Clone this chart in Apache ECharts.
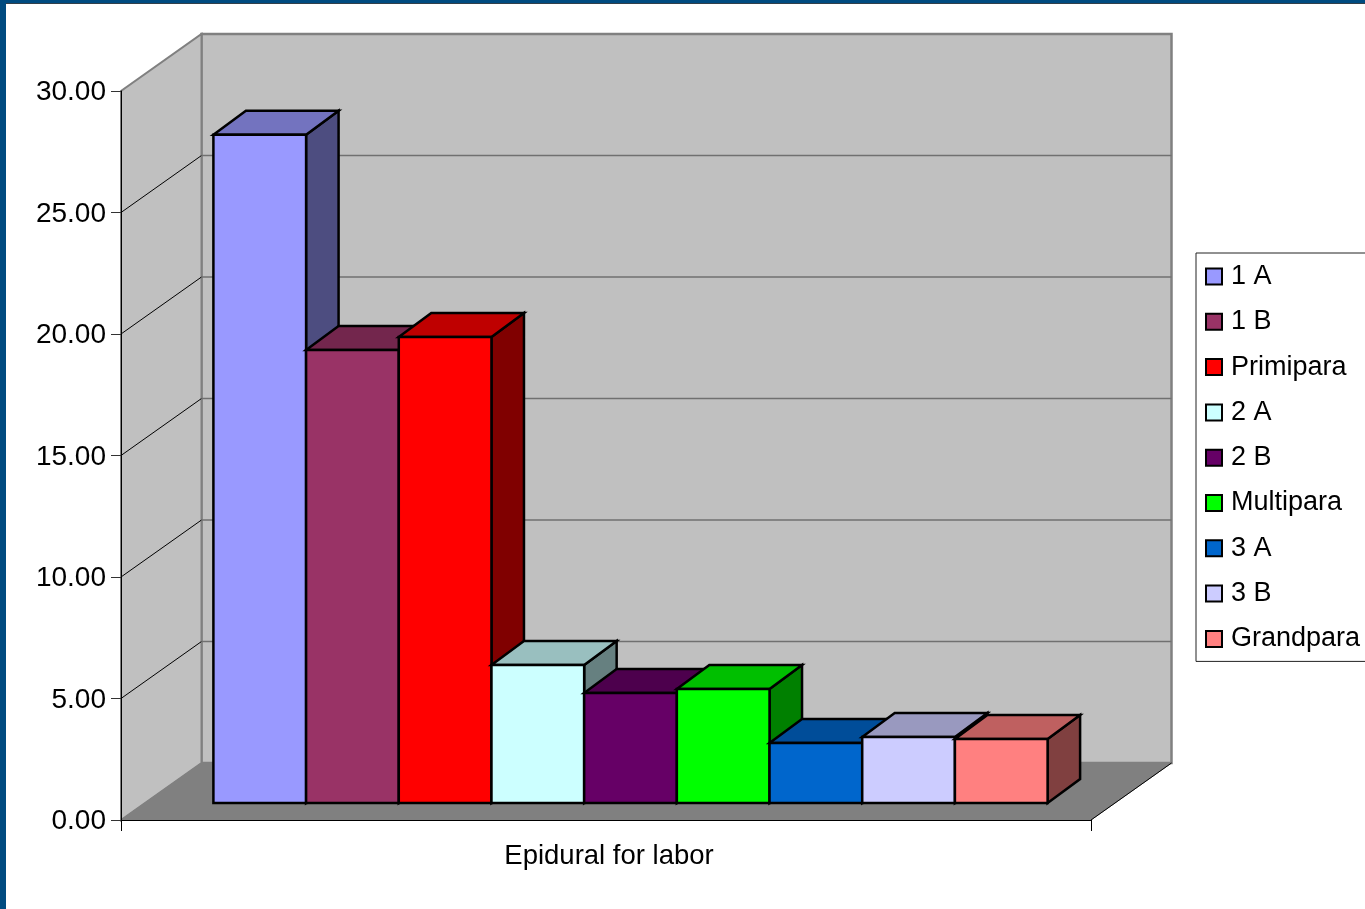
<!DOCTYPE html>
<html>
<head>
<meta charset="utf-8">
<style>
html,body{margin:0;padding:0;background:#fff;overflow:hidden}
#chart{position:absolute;left:0;top:0;width:1365px;height:909px}
#frame{position:absolute;left:0;top:0;width:1365px;height:909px;box-sizing:border-box;border-left:6px solid #004b80;border-top:3px solid #004b80;pointer-events:none}
#frame i{display:block;height:1px;background:#33404a}
</style>
<script src="https://cdn.jsdelivr.net/npm/echarts@6/dist/echarts.min.js"></script>
</head>
<body>
<div id="chart"></div>
<div id="frame"><i></i></div>
<script>
const categories = ['Epidural for labor'];
const seriesNames = ['1 A','1 B','Primipara','2 A','2 B','Multipara','3 A','3 B','Grandpara'];
const seriesValues = [27.5,18.64,19.18,5.68,4.53,4.69,2.47,2.72,2.63];
const seriesColors = ['#9999ff','#993366','#ff0000','#ccffff','#660066','#00ff00','#0066cc','#ccccff','#ff8080'];
const yTicks = [0,5,10,15,20,25,30];

const WALL_DX = 80.5, WALL_DY = -57;
const BAR_DX = 24.5, BAR_DY = -17;
const BOX_DX = 32.5, BOX_DY = -24;
const BARS_SPAN = 0.86;

function shade(hex, f){
  const n = parseInt(hex.slice(1),16);
  const c = [(n>>16)&255,(n>>8)&255,n&255].map(v=>Math.round(v*f));
  return 'rgb('+c.join(',')+')';
}
function poly(points, fill, stroke, lw){
  return {type:'polygon',shape:{points},style:{fill,stroke:stroke||fill,lineWidth:lw==null?1:lw,lineJoin:'miter'}};
}
function line(a,b,stroke,lw){
  return {type:'line',shape:{x1:a[0],y1:a[1],x2:b[0],y2:b[1]},style:{stroke,lineWidth:lw}};
}

function renderWalls(params, api){
  const band = api.size([1,0])[0];
  const c = api.coord([0,0]);
  const xL = c[0]-band/2, xR = c[0]+band/2;
  const y0 = api.coord([0,yTicks[0]])[1];
  const yT = api.coord([0,yTicks[yTicks.length-1]])[1];
  const dx = WALL_DX, dy = WALL_DY;
  const kids = [
    poly([[xL+dx,y0+dy],[xR+dx,y0+dy],[xR+dx,yT+dy],[xL+dx,yT+dy]],'#c0c0c0','#808080',2.5),
    poly([[xL,y0],[xL,yT],[xL+dx,yT+dy],[xL+dx,y0+dy]],'#c0c0c0','#808080',2),
    poly([[xL,y0],[xR,y0],[xR+dx,y0+dy],[xL+dx,y0+dy]],'#808080','#808080',1),
    line([xR,y0],[xR+dx,y0+dy],'#000',1)
  ];
  yTicks.slice(1,-1).forEach(t=>{
    const y = api.coord([0,t])[1];
    kids.push(line([xL,y],[xL+dx,y+dy],'#000',1));
    kids.push(line([xL+dx,y+dy],[xR+dx,y+dy],'#707070',1.5));
  });
  return {type:'group',children:kids};
}

function renderBar(i){
  return function(params, api){
    const band = api.size([1,0])[0];
    const w = band*BARS_SPAN/seriesNames.length;
    const c = api.coord([0,api.value(1)]);
    const base = api.coord([0,0]);
    const x0 = c[0]-band*BARS_SPAN/2+i*w+BAR_DX, x1 = x0+w;
    const yT = c[1]+BAR_DY, yB = base[1]+BAR_DY;
    const col = seriesColors[i];
    return {type:'group',children:[
      poly([[x1,yB],[x1+BOX_DX,yB+BOX_DY],[x1+BOX_DX,yT+BOX_DY],[x1,yT]],shade(col,0.5),'#000',2.5),
      poly([[x0,yT],[x1,yT],[x1+BOX_DX,yT+BOX_DY],[x0+BOX_DX,yT+BOX_DY]],shade(col,0.75),'#000',2.5),
      poly([[x0,yB],[x1,yB],[x1,yT],[x0,yT]],col,'#000',2.5)
    ]};
  };
}

const series = [{
  type:'custom',coordinateSystem:'cartesian2d',silent:true,z:1,
  encode:{x:0,y:1},data:[[0,0]],renderItem:renderWalls
}].concat(seriesNames.map((name,i)=>({
  type:'custom',name,coordinateSystem:'cartesian2d',z:2+i,
  encode:{x:0,y:1},
  itemStyle:{color:seriesColors[i]},
  data:[[0,seriesValues[i]]],
  renderItem:renderBar(i)
})));

const chart = echarts.init(document.getElementById('chart'),null,{renderer:'canvas'});
chart.setOption({
  animation:false,
  backgroundColor:'#ffffff',
  textStyle:{fontFamily:'"Liberation Sans",Arial,sans-serif'},
  grid:{left:121,right:274,top:91,bottom:89,containLabel:false},
  xAxis:{type:'category',data:categories,z:20,
    axisLine:{lineStyle:{color:'#000',width:1}},
    axisTick:{show:true,length:11,lineStyle:{color:'#000',width:1}},
    axisLabel:{color:'#000',fontSize:27.5,margin:22,padding:[0,0,0,6]},
    splitLine:{show:false}},
  yAxis:{type:'value',min:0,max:30,interval:5,z:20,
    axisLine:{show:true,lineStyle:{color:'#000',width:1}},
    axisTick:{show:true,length:10,lineStyle:{color:'#333',width:1}},
    axisLabel:{margin:15,formatter:v=>'{a|'+v.toFixed(2)+'}',
      rich:{a:{color:'#000',fontSize:28,padding:[3,0,0,0]}}},
    splitLine:{show:false}},
  legend:{
    orient:'vertical',left:1196,top:253,
    padding:[10,30,9,9],
    data:seriesNames,
    selectedMode:false,
    icon:'rect',itemWidth:16,itemHeight:16,itemGap:18.3,
    itemStyle:{borderColor:'#000',borderWidth:2},
    backgroundColor:'#fff',borderColor:'#222',borderWidth:1,
    textStyle:{color:'#000',fontSize:27,padding:[0,0,0,4]}
  },
  tooltip:{show:false},
  series
});
</script>
</body>
</html>
